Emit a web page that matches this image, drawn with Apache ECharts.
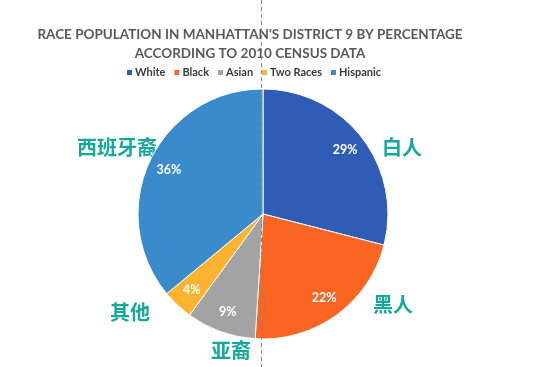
<!DOCTYPE html>
<html>
<head>
<meta charset="utf-8">
<style>
  html, body { margin: 0; padding: 0; background: #ffffff; }
  #chart { width: 552px; height: 367px; }
</style>
<script src="https://cdn.jsdelivr.net/npm/echarts@6/dist/echarts.min.js"></script>
</head>
<body>
<div id="chart"></div>
<script>
const categories = ['White', 'Black', 'Asian', 'Two Races', 'Hispanic'];
const values = [29, 22, 9, 4, 36];
const colors = ['#2F5DB6', '#FB6523', '#A3A3A3', '#FDB32F', '#3A8BCC'];
const chineseNames = ['白人', '黑人', '亚裔', '其他', '西班牙裔'];
const chinesePos = [[382, 148], [373, 305], [211, 351], [110, 313], [77, 148]];
const titleLines = ["RACE POPULATION IN MANHATTAN'S DISTRICT 9 BY PERCENTAGE", 'ACCORDING TO 2010 CENSUS DATA'];

const chart = echarts.init(document.getElementById('chart'), null, { renderer: 'canvas' });
const pieData = categories.map((c, i) => ({ name: c, value: values[i], itemStyle: { color: colors[i] } }));
const center = [263, 214];

const option = {
  backgroundColor: '#ffffff',
  animation: false,
  title: {
    text: titleLines.join('\n'),
    left: 245, top: 20, textAlign: 'center',
    textStyle: { fontFamily: 'Lato', fontWeight: 'bold', fontSize: 13.5, color: '#595959', lineHeight: 19 }
  },
  legend: {
    data: categories,
    top: 62, left: 120,
    itemWidth: 7, itemHeight: 7, itemGap: 7,
    icon: 'rect',
    textStyle: { fontFamily: 'Lato', fontWeight: 'bold', fontSize: 11, color: '#3a3a3a', padding: [0, 0, 0, -3] }
  },
  series: [
    {
      type: 'pie',
      center: center,
      radius: [0, 125],
      startAngle: 90,
      clockwise: true,
      data: pieData,
      label: { show: false },
      labelLine: { show: false },
      itemStyle: { borderColor: '#ffffff', borderWidth: 1 },
      emphasis: { disabled: true }
    },
    {
      type: 'pie',
      center: center,
      radius: [77, 125],
      startAngle: 90,
      clockwise: true,
      silent: true,
      data: pieData.map(d => ({ name: d.name, value: d.value, itemStyle: { color: 'rgba(0,0,0,0)' } })),
      label: {
        show: true, position: 'inside',
        formatter: p => p.value + '%',
        color: '#ffffff', fontFamily: 'Lato', fontWeight: 'bold', fontSize: 12.5
      },
      labelLine: { show: false },
      emphasis: { disabled: true }
    }
  ],
  graphic: [
    {
      type: 'line', silent: true, z: 100,
      shape: { x1: 261.5, y1: 0, x2: 261.5, y2: 367 },
      style: { stroke: '#8a8a8a', lineWidth: 1, lineDash: [4, 3] }
    }
  ].concat(chineseNames.map((t, i) => ({
    type: 'text', silent: true,
    left: chinesePos[i][0], top: chinesePos[i][1] - 11,
    style: { text: t, fill: '#14A99C', font: 'bold 20px "Noto Sans CJK SC"' }
  })))
};
chart.setOption(option);
</script>
</body>
</html>
